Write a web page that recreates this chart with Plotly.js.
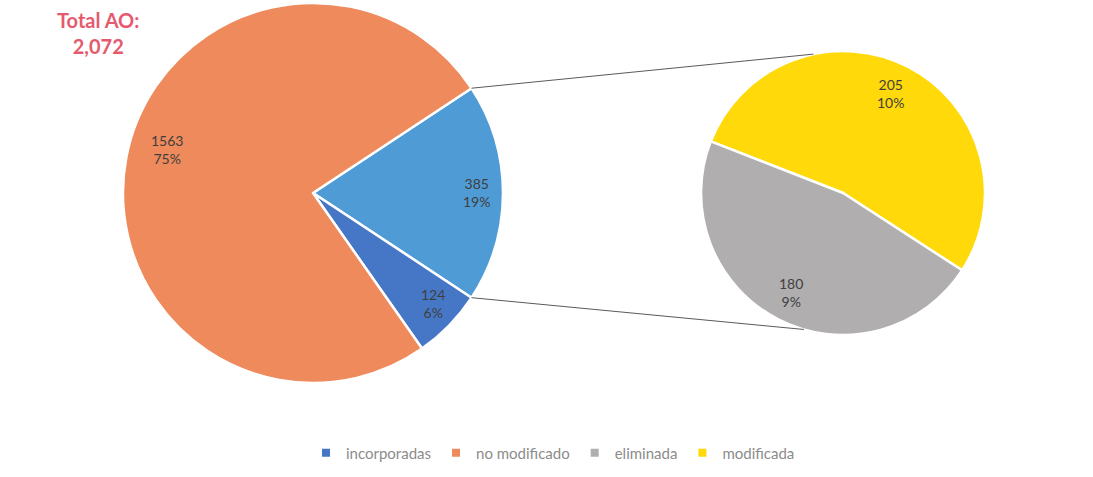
<!DOCTYPE html>
<html>
<head>
<meta charset="utf-8">
<script src="https://cdn.plot.ly/plotly-3.0.1.min.js"></script>
<style>html,body{margin:0;padding:0;background:#fff;}#chart{width:1093px;height:477px;}</style>
</head>
<body>
<div id="chart"></div>
<script>
// ---- data ----
var mainLabels = ['otras', 'incorporadas', 'no modificado'];
var mainValues = [385, 124, 1563];
var mainColors = ['#4F9BD5', '#4677C6', '#EE8A5C'];

var subLabels = ['modificada', 'eliminada'];
var subValues = [205, 180];
var subColors = ['#FFD90A', '#B0AEAF'];

var legendLabels = ['incorporadas', 'no modificado', 'eliminada', 'modificada'];
var legendColors = ['#4677C6', '#EE8A5C', '#B0AEAF', '#FFD90A'];

var titleText = 'Total AO:';

// ---- geometry / style ----
var W = 1093, H = 477;
var dom1 = {x: [0.1125, 0.4602], y: [0.197, 0.994]};
var dom2 = {x: [0.6414, 0.9012], y: [0.2977, 0.8931]};
var total = mainValues.reduce(function (a, b) { return a + b; }, 0);
var rot1 = 90 - (mainValues[0] / total * 360) / 2;
var rot2 = -68.7;

function pieGeom(dom) {
  var w = (dom.x[1] - dom.x[0]) * W, h = (dom.y[1] - dom.y[0]) * H;
  return {
    cx: (dom.x[0] + dom.x[1]) / 2 * W,
    cy: (1 - (dom.y[0] + dom.y[1]) / 2) * H,
    r: Math.min(w, h) / 2
  };
}
function pt(g, angDeg, frac) {
  var a = angDeg * Math.PI / 180;
  return [g.cx + g.r * frac * Math.sin(a), g.cy - g.r * frac * Math.cos(a)];
}
function toPaper(p) { return [p[0] / W, 1 - p[1] / H]; }

var g1 = pieGeom(dom1), g2 = pieGeom(dom2);

function pct(v) { return Math.round(v / total * 100) + '%'; }

var annotations = [];
var labelFont = {family: 'Lato, "Open Sans", sans-serif', size: 14, color: '#3F3F3F'};

function addLabels(values, rot, g, fracs, offs) {
  var sum = values.reduce(function (a, b) { return a + b; }, 0);
  var start = rot;
  values.forEach(function (v, i) {
    var span = v / sum * 360;
    var mid = start + span / 2 + offs[i];
    var p = toPaper(pt(g, mid, fracs[i]));
    annotations.push({
      xref: 'paper', yref: 'paper', x: p[0], y: p[1],
      text: v + '<br>' + pct(v), showarrow: false,
      font: labelFont, align: 'center', xanchor: 'center', yanchor: 'middle'
    });
    start += span;
  });
}
addLabels(mainValues, rot1, g1, [0.86, 0.86, 0.80], [0, -1.5, 6]);
addLabels(subValues, rot2, g2, [0.78, 0.79], [-1.5, 0.5]);

// Title annotation
annotations.push({
  xref: 'paper', yref: 'paper', x: 98 / W, y: 1 - 33 / H,
  text: '<b>' + titleText + '<br>' + total.toLocaleString('en-US') + '</b>',
  showarrow: false, align: 'center', xanchor: 'center', yanchor: 'middle',
  font: {family: 'Lato, "Open Sans", sans-serif', size: 20, color: '#E55A6E'}
});

// Connector lines
var otherSpan = mainValues[0] / total * 360;
var mTop = toPaper(pt(g1, rot1, 1));
var mBot = toPaper(pt(g1, rot1 + otherSpan, 1));
var sTop = toPaper(pt(g2, -12, 1));
var sBot = toPaper(pt(g2, 196, 1));
var shapes = [
  {type: 'line', xref: 'paper', yref: 'paper', x0: mTop[0], y0: mTop[1], x1: sTop[0], y1: sTop[1], line: {color: '#5A5A5A', width: 1}},
  {type: 'line', xref: 'paper', yref: 'paper', x0: mBot[0], y0: mBot[1], x1: sBot[0], y1: sBot[1], line: {color: '#5A5A5A', width: 1}}
];

var traces = [
  {
    type: 'pie', labels: mainLabels, values: mainValues, sort: false,
    direction: 'clockwise', rotation: rot1, domain: dom1,
    marker: {colors: mainColors, line: {color: '#FFFFFF', width: 2.5}},
    textinfo: 'none', textposition: 'none', showlegend: false, hoverinfo: 'label+value'
  },
  {
    type: 'pie', labels: subLabels, values: subValues, sort: false,
    direction: 'clockwise', rotation: rot2, domain: dom2,
    marker: {colors: subColors, line: {color: '#FFFFFF', width: 2.5}},
    textinfo: 'none', textposition: 'none', showlegend: false, hoverinfo: 'label+value'
  }
];
legendLabels.forEach(function (l, i) {
  traces.push({
    type: 'scatter', mode: 'markers', x: [null], y: [null], name: l,
    marker: {symbol: 'square', size: 8, color: legendColors[i]},
    showlegend: true, hoverinfo: 'skip'
  });
});

var layout = {
  width: W, height: H,
  margin: {l: 0, r: 0, t: 0, b: 0},
  paper_bgcolor: '#FFFFFF', plot_bgcolor: 'rgba(0,0,0,0)',
  xaxis: {visible: false}, yaxis: {visible: false},
  showlegend: true,
  legend: {
    orientation: 'h', x: 553 / W, xanchor: 'center', y: 1 - 453 / H, yanchor: 'middle',
    font: {family: 'Lato, "Open Sans", sans-serif', size: 15, color: '#8C8C8C'},
    itemwidth: 30, tracegroupgap: 0, bgcolor: 'rgba(0,0,0,0)'
  },
  annotations: annotations,
  shapes: shapes
};

Plotly.newPlot('chart', traces, layout, {displayModeBar: false, staticPlot: true});
</script>
</body>
</html>
